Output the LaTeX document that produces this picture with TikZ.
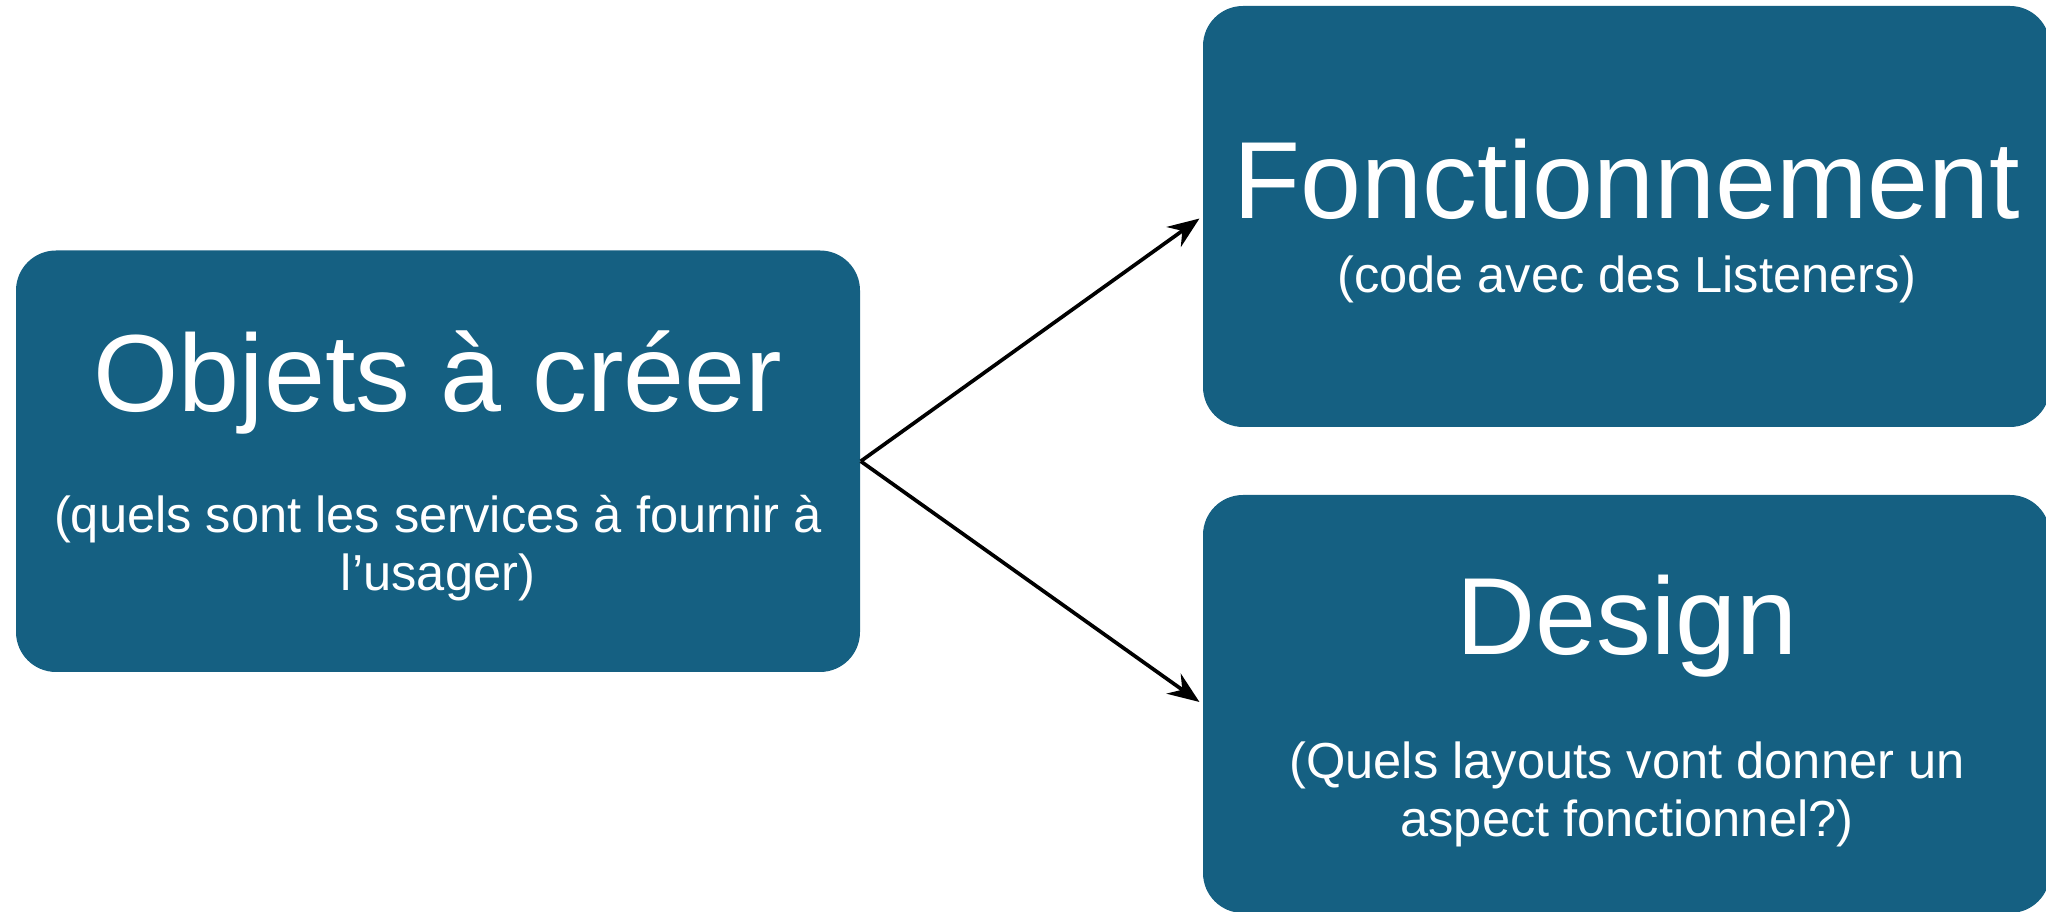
\documentclass[tikz,border=0pt]{standalone}
\usepackage{fontspec}
\setmainfont{Liberation Sans}
\usetikzlibrary{arrows.meta,positioning}
\definecolor{boxblue}{HTML}{156082}
\tikzset{>={Stealth[length=9pt,width=7pt,inset=3pt]},shorten >=1pt}
\tikzset{
  bloc/.style={fill=boxblue, rounded corners=0.4cm, inner sep=0pt},
  titre/.style={text=white, anchor=base, font=\fontsize{31.2}{38}\selectfont},
  soustitre/.style={text=white, align=center, font=\fontsize{14.4}{16.5}\selectfont}
}

\begin{document}
\begin{tikzpicture}
  \useasboundingbox (0,0) rectangle (20.46,9.12);
  \clip (0,0) rectangle (20.46,9.12);
  % les trois boites
  \node[bloc, minimum width=8.44cm, minimum height=4.215cm] (objets) at (4.38,4.5075) {};
  \node[bloc, minimum width=8.47cm, minimum height=4.21cm] (fonct) at (16.265,6.955) {};
  \node[bloc, minimum width=8.47cm, minimum height=4.18cm] (design) at (16.265,2.08) {};
  % textes
  \node[titre] (tobjets) at (4.38,5.00) {Objets à créer};
  \node[soustitre] (sobjets) at (4.38,3.64) {(quels sont les services à fournir à\\l’usager)};
  \node[titre] (tfonct) at (16.27,6.93) {Fonctionnement};
  \node[soustitre, anchor=base] (sfonct) at (16.27,6.19) {(code avec des Listeners)};
  \node[titre] (tdesign) at (16.27,2.57) {Design};
  \node[soustitre] (sdesign) at (16.27,1.18) {(Quels layouts vont donner un\\aspect fonctionnel?)};
  % fleches
  \draw[->, line width=1.05pt] (objets.east) -- (fonct.west);
  \draw[->, line width=1.05pt] (objets.east) -- (design.west);
\end{tikzpicture}
\end{document}
